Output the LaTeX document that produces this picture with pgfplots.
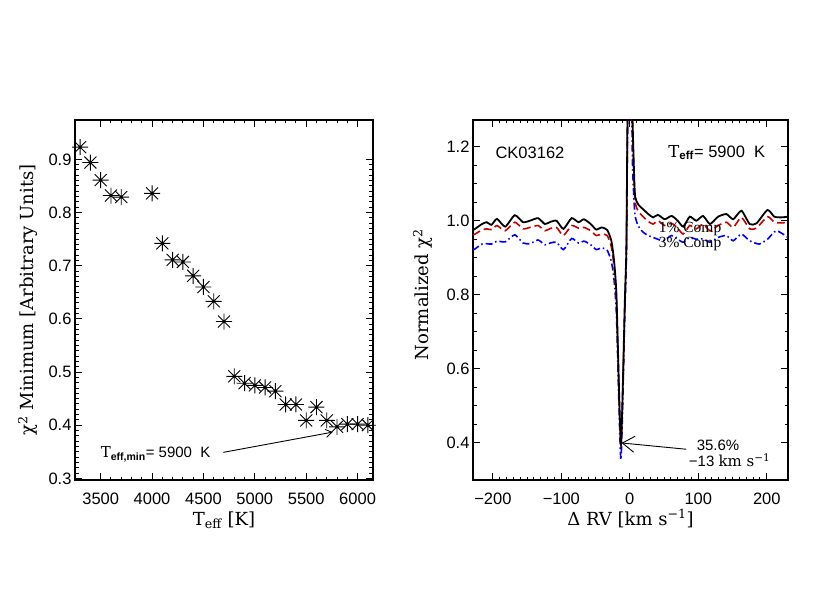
\documentclass[border=0pt]{standalone}
\usepackage{fontspec}
\setmainfont{Liberation Sans}
\newfontfamily\dvs{DejaVu Serif}
\newfontfamily\tms{Liberation Serif}
\usepackage{pgfplots}
\pgfplotsset{compat=1.18}
\usetikzlibrary{arrows.meta}

\pgfdeclareplotmark{idlstar}{%
  \pgfpathmoveto{\pgfqpoint{-\pgfplotmarksize}{0pt}}\pgfpathlineto{\pgfqpoint{\pgfplotmarksize}{0pt}}%
  \pgfpathmoveto{\pgfqpoint{0pt}{-\pgfplotmarksize}}\pgfpathlineto{\pgfqpoint{0pt}{\pgfplotmarksize}}%
  \pgfpathmoveto{\pgfqpoint{-0.75\pgfplotmarksize}{-0.75\pgfplotmarksize}}\pgfpathlineto{\pgfqpoint{0.75\pgfplotmarksize}{0.75\pgfplotmarksize}}%
  \pgfpathmoveto{\pgfqpoint{-0.75\pgfplotmarksize}{0.75\pgfplotmarksize}}\pgfpathlineto{\pgfqpoint{0.75\pgfplotmarksize}{-0.75\pgfplotmarksize}}%
  \pgfusepathqstroke}

\definecolor{idlred}{RGB}{200,0,0}
\definecolor{idlblue}{RGB}{0,0,255}

\pgfplotsset{
  idl/.style={
    scale only axis,
    enlargelimits=false,
    tick align=inside,
    axis line style={line width=1.3pt},
    tick style={black, line width=1pt},
    major tick length=7pt,
    minor tick length=3.5pt,
    tick label style={font=\fontsize{16.5}{19}\selectfont},
    /pgf/number format/assume math mode=true,
    xticklabel style={yshift=-9pt},
    label style={font=\dvs\fontsize{18}{21}\selectfont},
    xlabel style={at={(axis description cs:0.5,0)}, anchor=base, yshift=-45pt},
  }
}

\pgfplotstableread{
T chi
3300 0.923
3400 0.894
3500 0.861
3600 0.832
3700 0.829
4000 0.836
4100 0.742
4200 0.711
4300 0.707
4400 0.681
4500 0.660
4600 0.633
4700 0.595
4800 0.492
4900 0.479
5000 0.475
5100 0.471
5200 0.464
5300 0.439
5400 0.439
5500 0.409
5600 0.434
5700 0.409
5800 0.397
5900 0.402
6000 0.402
6100 0.400
}\chitable

\begin{document}
\begin{tikzpicture}
\path[use as bounding box] (0pt,0pt) rectangle (830pt,600pt);

% ---------------- left panel ----------------
\begin{axis}[idl,
  at={(75pt,120pt)}, anchor=south west,
  width=298pt, height=360pt,
  xmin=3250, xmax=6150, ymin=0.297, ymax=0.974,
  xtick={3500,4000,4500,5000,5500,6000},
  xticklabels={3500,4000,4500,5000,5500,6000},
  minor x tick num=4,
  ytick={0.3,0.4,0.5,0.6,0.7,0.8,0.9},
  yticklabels={0.3,0.4,0.5,0.6,0.7,0.8,0.9},
  minor y tick num=9,
  xlabel={T\textsubscript{eff} [K]},
  ylabel={χ\textsuperscript{2} Minimum [Arbitrary Units]},
  ylabel style={at={(axis description cs:-0.158,0.5)}, anchor=center},
]
\addplot[only marks, mark=idlstar, mark size=8pt, mark options={line width=0.9pt, black}] table[x=T, y=chi] {\chitable};
\node[anchor=base west, font=\fontsize{15}{18}\selectfont, inner sep=0pt] at (axis cs:3500,0.339)
  {{\dvs T}\textsubscript{\bfseries eff,min}= 5900\ \ K};
\draw[line width=0.9pt, -{Straight Barb[length=6pt,width=8pt]}] (axis cs:4693,0.349) -- (axis cs:5757,0.387);
\end{axis}

% ---------------- right panel ----------------
\begin{axis}[idl,
  at={(473pt,120pt)}, anchor=south west,
  width=315pt, height=360pt,
  xmin=-229, xmax=231, ymin=0.3, ymax=1.272,
  xtick={-200,-100,0,100,200},
  xticklabels={−200,−100,0,100,200},
  minor x tick num=9,
  ytick={0.4,0.6,0.8,1.0,1.2},
  yticklabels={0.4,0.6,0.8,1.0,1.2},
  minor y tick num=3,
  xlabel={Δ RV [km s\textsuperscript{−1}]},
  ylabel={Normalized χ\textsuperscript{2}},
  ylabel style={at={(axis description cs:-0.159,0.515)}, anchor=center},
  clip=true,
]
\addplot[idlblue, line width=1.6pt, dash pattern=on 7pt off 3pt on 1.5pt off 3pt, smooth, tension=0.35] coordinates {
(-229,0.921) (-226,0.924) (-216,0.937) (-209,0.938) (-202,0.937) (-194,0.945) (-182,0.943)
(-168,0.962) (-156,0.940) (-146,0.938) (-134,0.948) (-124,0.935) (-116,0.940) (-107,0.942)
(-97,0.922) (-85,0.952) (-75,0.940) (-67,0.945) (-57,0.935) (-49,0.922) (-41,0.927)
(-33,0.920) (-27,0.89) (-23,0.84) (-19.4,0.74) (-13,0.355) (-7.3,0.75) (-5,0.90)
(-3.4,1.22) (-1,1.45) (2,1.40) (4,1.15) (7.3,1.02) (12,0.987) (19.4,0.969) (27,0.960)
(34,0.955) (48.6,0.946) (61,0.960) (70,0.950) (78,0.942) (87.5,0.955) (97,0.950)
(107,0.951) (117,0.942) (129,0.955) (141,0.960) (151,0.946) (163,0.964) (175,0.946)
(189,0.937) (201,0.950) (214,0.973) (231,0.955)
};
\addplot[idlred, line width=1.6pt, dash pattern=on 8pt off 4pt, smooth, tension=0.35] coordinates {
(-229,0.962) (-226,0.964) (-216,0.975) (-209,0.978) (-202,0.976) (-194,0.987) (-182,0.973)
(-168,0.996) (-156,0.978) (-146,0.982) (-134,0.987) (-124,0.973) (-116,0.979) (-107,0.982)
(-97,0.960) (-85,0.987) (-75,0.980) (-67,0.982) (-57,0.973) (-49,0.960) (-41,0.964)
(-33,0.960) (-27,0.93) (-23,0.875) (-19.4,0.775) (-13,0.390) (-7.3,0.77) (-5,0.92)
(-3.4,1.26) (-1,1.45) (2,1.45) (4,1.25) (7.3,1.06) (12,1.027) (20,1.010) (27,0.998)
(34,0.991) (41,1.000) (51,0.987) (61,0.993) (70,0.980) (78,0.964) (87.5,0.987) (97,0.978)
(107,0.991) (117,0.973) (129,0.987) (141,0.996) (151,0.982) (163,1.009) (175,0.978)
(185,0.980) (201,1.011) (211,0.996) (221,0.994) (231,0.996)
};
\addplot[black, line width=1.8pt, smooth, tension=0.35] coordinates {
(-229,0.975) (-226,0.978) (-216,0.991) (-209,0.996) (-202,0.989) (-194,1.005) (-182,0.984)
(-168,1.015) (-156,0.996) (-146,1.000) (-134,1.007) (-124,0.991) (-116,0.997) (-107,1.000)
(-97,0.978) (-85,1.007) (-75,0.996) (-67,1.004) (-57,0.991) (-49,0.976) (-41,0.982)
(-33,0.975) (-27,0.946) (-23,0.892) (-19.4,0.793) (-13,0.400) (-7.3,0.78) (-5,0.93)
(-3.4,1.27) (-1,1.45) (2,1.45) (4,1.27) (7.3,1.076) (12,1.045) (20,1.030) (27,1.018)
(34,1.009) (41,1.016) (51,1.004) (61,1.013) (70,1.000) (78,0.984) (87.5,1.011) (97,1.000)
(107,1.013) (117,0.991) (129,1.011) (141,1.018) (151,1.004) (163,1.027) (175,0.991)
(185,0.993) (201,1.029) (211,1.011) (221,1.009) (231,1.011)
};
\node[font=\fontsize{16.5}{19}\selectfont] at (axis cs:-145.8,1.184) {CK03162};
\node[font=\fontsize{16.5}{19}\selectfont] at (axis cs:127,1.184) {{\dvs T}\textsubscript{\bfseries eff}= 5900\ \ K};
\node[font=\tms\fontsize{15.5}{18}\selectfont, inner sep=0pt] at (axis cs:88,0.977) {1\% Comp};
\node[font=\tms\fontsize{15.5}{18}\selectfont, inner sep=0pt] at (axis cs:88,0.936) {3\% Comp};
\draw[line width=0.9pt, -{Straight Barb[length=12pt,width=16pt]}] (axis cs:82.6,0.383) -- (axis cs:-12,0.400);
\node[font=\fontsize{15}{18}\selectfont] at (axis cs:128.8,0.394) {35.6\%};
\node[font=\fontsize{15}{18}\selectfont] at (axis cs:145.8,0.353) {−13 {\dvs km s\textsuperscript{−1}}};
\end{axis}
\end{tikzpicture}
\end{document}
